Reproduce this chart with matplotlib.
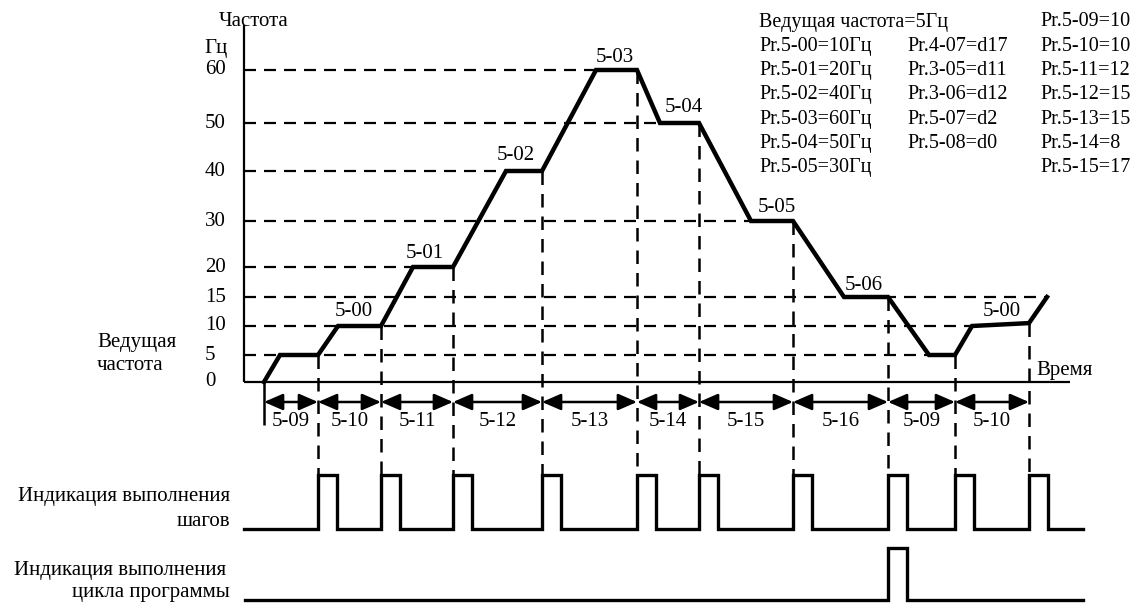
import numpy as np
import matplotlib
matplotlib.use("Agg")
import matplotlib.pyplot as plt

plt.rcParams['font.family'] = ['Liberation Serif', 'DejaVu Serif']

# ---------------- data ----------------
# frequency levels shown on the axis (Hz) and their tick labels
HZ_LEVELS = [0, 5, 10, 15, 20, 30, 40, 50, 60]
HZ_LABELS = ["0", "5", "10", "15", "20", "30", "40", "50", "60"]
# pixel row of each level in the drawing (the axis is not linear)
HZ_ROWS = [382, 355, 326, 297, 267, 221, 171, 123, 70]

# frequency curve: time (diagram units) / frequency (Hz)
CURVE_T = [264, 280, 318, 338, 381, 413, 453, 506, 542, 596, 637, 660, 699,
           751, 793, 844, 888, 929, 955, 972, 1029, 1047]
CURVE_F = [0, 5, 5, 10, 10, 20, 20, 40, 40, 60, 60, 50, 50,
           30, 30, 15, 15, 5, 5, 10, 10.5, 15]

# step boundaries and step-time labels
BOUNDS = [264, 318, 381, 453, 542, 637, 699, 793, 888, 955, 1029]
SEG_LABELS = ["5-09", "5-10", "5-11", "5-12", "5-13", "5-14", "5-15",
              "5-16", "5-09", "5-10"]

# speed labels above the flats
SPEED_LABELS = ["5-00", "5-01", "5-02", "5-03", "5-04", "5-05", "5-06", "5-00"]
SPEED_LABEL_X = [354, 425, 516, 615, 684, 777, 864, 1002]
SPEED_LABEL_Y = [312, 253, 155, 58, 107, 207, 285, 312]

# output signals
STEP_PULSES = BOUNDS[1:]
CYCLE_PULSES = [888]

# parameter table
COL1 = ["Ведущая частота=5Гц", "Pr.5-00=10Гц", "Pr.5-01=20Гц", "Pr.5-02=40Гц",
        "Pr.5-03=60Гц", "Pr.5-04=50Гц", "Pr.5-05=30Гц"]
COL2 = ["", "Pr.4-07=d17", "Pr.3-05=d11", "Pr.3-06=d12", "Pr.5-07=d2",
        "Pr.5-08=d0", ""]
COL3 = ["Pr.5-09=10", "Pr.5-10=10", "Pr.5-11=12", "Pr.5-12=15",
        "Pr.5-13=15", "Pr.5-14=8", "Pr.5-15=17"]

# ---------------- scale ----------------
W, H = 1139, 603
hz_ext = np.array([-60.0] + HZ_LEVELS + [90.0])
px_ext = np.array([382 + 60 * 5.4] + HZ_ROWS + [70 - 30 * 5.3])


def fwd(v):
    return -np.interp(v, hz_ext, px_ext)


def inv(u):
    return np.interp(-np.asarray(u, float), px_ext[::-1], hz_ext[::-1])


def Y(p):  # pixel row -> data value
    return float(inv(-p))


fig = plt.figure(figsize=(W / 100, H / 100), dpi=100)
ax = fig.add_axes([0, 0, 1, 1])
ax.set_yscale('function', functions=(fwd, inv))
ax.set_xlim(0, W)
ax.set_ylim(Y(H), Y(0))
ax.axis('off')

FS = 15
FT = 14.5
K = 'black'
DASH = (5.4, 3.6)

# axes
ax.plot([244, 244], [Y(25), 0], color=K, lw=1.6, solid_capstyle='butt')
ax.plot([244, 1070], [0, 0], color=K, lw=1.6, solid_capstyle='butt')

# horizontal dashed level lines
ct = np.array(CURVE_T)
cf = np.array(CURVE_F)
for lev, lab in zip(HZ_LEVELS, HZ_LABELS):
    ax.text(205, lev, lab, fontsize=FS, ha='left', va='center')
    if lev == 0:
        continue
    xe = ct[cf == lev].max()
    ax.plot([244, xe], [lev, lev], color=K, lw=1.6, dashes=DASH)

# vertical dashed boundary lines
bf = np.interp(BOUNDS, CURVE_T, CURVE_F)
for b, f in zip(BOUNDS[1:], bf[1:]):
    ax.plot([b, b], [f, Y(475)], color=K, lw=1.8, dashes=DASH)
ax.plot([BOUNDS[0]] * 2, [0, Y(425)], color=K, lw=1.8, solid_capstyle='butt')

# frequency curve
ax.plot(CURVE_T, CURVE_F, color=K, lw=3.2, solid_joinstyle='miter')

# double arrows with step-time labels
for a, b, lab in zip(BOUNDS[:-1], BOUNDS[1:], SEG_LABELS):
    ax.annotate('', xy=(b, Y(402)), xytext=(a, Y(402)),
                arrowprops=dict(arrowstyle='<|-|>,head_length=1.15,head_width=0.5',
                                mutation_scale=10, color=K, lw=1.8,
                                shrinkA=0, shrinkB=0))
    ax.text((a + b) / 2, Y(421), lab, fontsize=FS, ha='center', va='center')

# speed labels
for lab, x, y in zip(SPEED_LABELS, SPEED_LABEL_X, SPEED_LABEL_Y):
    ax.text(x, Y(y), lab, fontsize=FS, ha='center', va='center')

# axis titles
ax.text(219, Y(21), "Частота", fontsize=FS, ha='left', va='center')
ax.text(204, Y(48), "Гц", fontsize=FS, ha='left', va='center')
ax.text(97, Y(342), "Ведущая", fontsize=FS, ha='left', va='center')
ax.text(97, Y(366), "частота", fontsize=FS, ha='left', va='center')
ax.text(1036, Y(370), "Время", fontsize=FS, ha='left', va='center')

# parameter table
for i, (c1, c2, c3) in enumerate(zip(COL1, COL2, COL3)):
    yy = Y(22 + i * 24.3)
    ax.text(759, yy, c1, fontsize=FT, ha='left', va='center')
    ax.text(907, yy, c2, fontsize=FT, ha='left', va='center')
    ax.text(1040, yy, c3, fontsize=FT, ha='left', va='center')


# pulse signals
def pulse_wave(starts, x0, x1, base, top, width=19):
    xs, ys = [x0], [base]
    for s in starts:
        xs += [s, s, s + width, s + width]
        ys += [base, top, top, base]
    xs.append(x1)
    ys.append(base)
    return xs, [Y(v) for v in ys]


sx, sy = pulse_wave(STEP_PULSES, 244, 1083, 529, 475)
ax.plot(sx, sy, color=K, lw=2.4, solid_joinstyle='miter')
cx, cy = pulse_wave(CYCLE_PULSES, 245, 1083, 600, 548)
ax.plot(cx, cy, color=K, lw=2.4, solid_joinstyle='miter')

ax.text(230, Y(497), "Индикация выполнения", fontsize=FS, ha='right', va='center')
ax.text(230, Y(521), "шагов", fontsize=FS, ha='right', va='center')
ax.text(226, Y(571), "Индикация выполнения", fontsize=FS, ha='right', va='center')
ax.text(230, Y(593), "цикла программы", fontsize=FS, ha='right', va='center')

fig.savefig("out.png", dpi=100)
